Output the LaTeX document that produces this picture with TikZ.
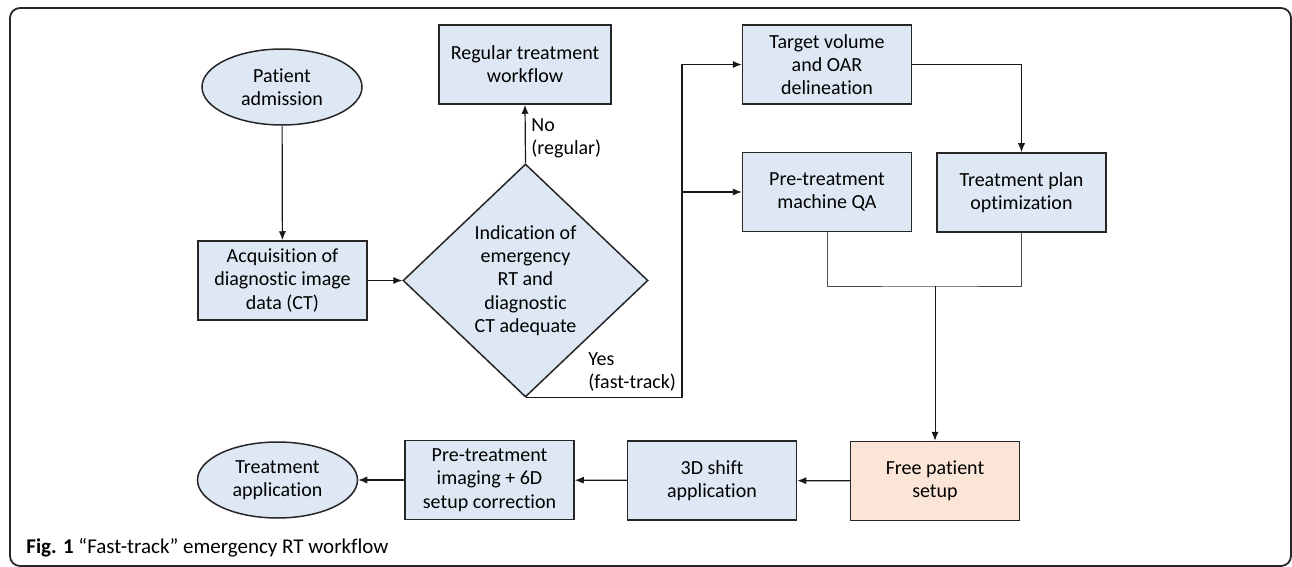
\documentclass[tikz,border=0pt]{standalone}
\usepackage{fontspec}
\setmainfont{Carlito}[Ligatures=NoCommon]
\usetikzlibrary{shapes.geometric, arrows.meta}

\definecolor{stepblue}{HTML}{DEE8F4}
\definecolor{setuppeach}{HTML}{FBE5D6}

\begin{document}
\begin{tikzpicture}[x=0.5pt, y=-0.5pt,
    process/.style={draw=black!85, fill=stepblue, line width=0.75pt, minimum width=84.5pt, minimum height=39.5pt, align=center, inner sep=1pt, font=\fontsize{10}{11.6}\selectfont},
    terminal/.style={process, ellipse, minimum width=80pt, minimum height=38pt, inner sep=0pt},
    decision/.style={process, diamond, minimum width=122.5pt, minimum height=116.5pt, inner sep=0pt},
    flow/.style={-{Latex[length=4.5pt, width=3.6pt]}, line width=0.6pt, black!90},
    mergeline/.style={line width=0.5pt, black!70},
    lbl/.style={anchor=west, align=left, inner sep=0pt, font=\fontsize{10}{11.6}\selectfont}]
    \useasboundingbox (0,0) rectangle (1292,567);
    \draw[line width=0.9pt, black!85, rounded corners=5pt] (10,8) rectangle (1291,566);

    % left column
    \node[terminal] (admit) at (282,87) {Patient\\admission};
    \node[process] (acq) at (282.5,280.5) {Acquisition of\\diagnostic image\\data (CT)};
    \node[decision] (check) at (525.5,280.5) {Indication of\\emergency\\RT and\\diagnostic\\CT adequate};
    \node[process, minimum width=86pt] (regular) at (525,64.5) {Regular treatment\\workflow};

    % planning
    \node[process] (target) at (827,64.5) {Target volume\\and OAR\\delineation};
    \node[process] (machqa) at (827,192) {Pre-treatment\\machine QA};
    \node[process] (plan) at (1021.5,192.5) {Treatment plan\\optimization};

    % treatment row
    \node[process, fill=setuppeach] (setup) at (935,481) {Free patient\\setup};
    \node[process] (shift) at (712,480.5) {3D shift\\application};
    \node[process] (imaging) at (489.5,480) {Pre-treatment\\imaging + 6D\\setup correction};
    \node[terminal] (apply) at (277.5,480) {Treatment\\application};

    \coordinate (trunk) at (682,0);
    \coordinate (merge) at (935,286);

    \draw[flow] (admit) -- (acq);
    \draw[flow] (acq) -- (check);
    \draw[flow] (check.north) -- (regular.south);
    \node[lbl] (nolbl) at (531,138) {No\\(regular)};
    \draw[flow] (check.south) -| (trunk |- target.west) -- (target.west);
    \draw[flow] (trunk |- machqa.west) -- (machqa.west);
    \node[lbl] (yeslbl) at (588,372) {Yes\\(fast-track)};
    \draw[flow] (target.east) -| (plan.north);

    \draw[mergeline] (machqa.south) |- (merge) -| (plan.south);
    \draw[flow, line width=0.5pt] (merge) -- (setup.north);
    \draw[flow] (setup) -- (shift);
    \draw[flow] (shift) -- (imaging);
    \draw[flow] (imaging) -- (apply);

    \node[anchor=base west, inner sep=0pt, font=\fontsize{10.5}{12}\selectfont] (caption) at (26,553) {\textbf{Fig. 1} “Fast-track” emergency RT workflow};
\end{tikzpicture}
\end{document}
